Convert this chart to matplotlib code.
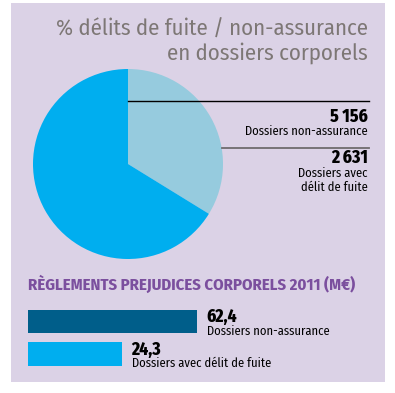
import matplotlib
matplotlib.use("Agg")
import matplotlib.pyplot as plt
from matplotlib import font_manager
from matplotlib.patches import Rectangle

# pie: number of files
pie_labels = ["Dossiers non-assurance", "Dossiers avec\ndélit de fuite"]
pie_values = [5156, 2631]
pie_value_text = ["5 156", "2 631"]

# bars: settlements 2011 (M€)
bar_labels = ["Dossiers non-assurance", "Dossiers avec délit de fuite"]
bar_values = [62.4, 24.3]
bar_value_text = ["62,4", "24,3"]

TITLE_LINES = ["% délits de fuite / non-assurance", "en dossiers corporels"]
SUBTITLE = "RÈGLEMENTS PREJUDICES CORPORELS 2011 (M€)"

BG = "#dbd2e6"
PIE_COLORS = ["#00aeef", "#96cbde"]
BAR_COLORS = ["#005e8a", "#00aeef"]
TITLE_COLOR = "#7d7775"
SUB_COLOR = "#7b4f9e"


def pick_font(candidates):
    available = {f.name for f in font_manager.fontManager.ttflist}
    for name in candidates:
        if name in available:
            return name
    return "DejaVu Sans"


FONT = pick_font(["Fira Sans Condensed", "PT Sans Narrow", "Archivo Narrow",
                  "Barlow Condensed", "Liberation Sans Narrow"])
plt.rcParams["font.family"] = [FONT, "DejaVu Sans"]

W, H = 395, 393
fig = plt.figure(figsize=(W / 100, H / 100), dpi=100)
fig.patch.set_facecolor("white")


def px_rect(x0, y0, w, h):
    # pixel box (top-left origin) -> figure fraction
    return [x0 / W, (H - y0 - h) / H, w / W, h / H]


def pixel_axes():
    ax = fig.add_axes([0, 0, 1, 1])
    ax.set_xlim(0, W)
    ax.set_ylim(H, 0)
    ax.axis("off")
    return ax


# background panel
bg = pixel_axes()
bg.add_patch(Rectangle((11, 3), 374, 379, facecolor=BG, edgecolor="none"))

# pie
cx, cy, r = 128, 164, 95
pax = fig.add_axes(px_rect(cx - r, cy - r, 2 * r, 2 * r))
# smaller slice first, clockwise from 12 o'clock
pax.pie(pie_values[::-1], colors=PIE_COLORS[::-1], startangle=90,
        counterclock=False, radius=1.0, wedgeprops=dict(linewidth=0))
pax.set_xlim(-1, 1)
pax.set_ylim(-1, 1)
pax.set_aspect("equal")
pax.axis("off")

# text and leader lines on top
over = pixel_axes()
for line, y in zip(TITLE_LINES, [36, 60]):
    over.text(368, y, line, ha="right", va="baseline", fontsize=16.4,
              color=TITLE_COLOR)

over.plot([cx, 369], [101, 101], color="black", lw=1)
over.plot([222, 369], [148, 148], color="#6f6b6e", lw=1.3)
over.text(368, 122, pie_value_text[0], ha="right", va="baseline",
          fontsize=12.5, fontweight=800, color="black")
over.text(368, 135, pie_labels[0], ha="right", va="baseline",
          fontsize=9, color="black")
over.text(368, 163, pie_value_text[1], ha="right", va="baseline",
          fontsize=12.5, fontweight=800, color="black")
for line, y in zip(pie_labels[1].split("\n"), [177, 191]):
    over.text(368, y, line, ha="right", va="baseline", fontsize=9, color="black")

over.text(28, 290, SUBTITLE, ha="left", va="baseline", fontsize=12,
          fontweight="bold", color=SUB_COLOR)

# bars (in the original they start left of zero)
base = 23.4
bax = fig.add_axes(px_rect(28, 306, 300, 64))
bax.barh([0, 1], [v + base for v in bar_values], left=-base, height=0.72,
         color=BAR_COLORS)
bax.set_xlim(-base, -base + (bar_values[0] + base) * 300 / 169)
bax.set_ylim(1.492, -0.477)
bax.axis("off")
for i, (v, t, lab) in enumerate(zip(bar_values, bar_value_text, bar_labels)):
    bax.annotate(t, (v, i), xytext=(7, -0.5), textcoords="offset points",
                 ha="left", va="baseline", fontsize=12.5, fontweight=800)
    bax.annotate(lab, (v, i), xytext=(7, -9.7), textcoords="offset points",
                 ha="left", va="baseline", fontsize=9)

fig.savefig("out.png", dpi=100, facecolor=fig.get_facecolor())
